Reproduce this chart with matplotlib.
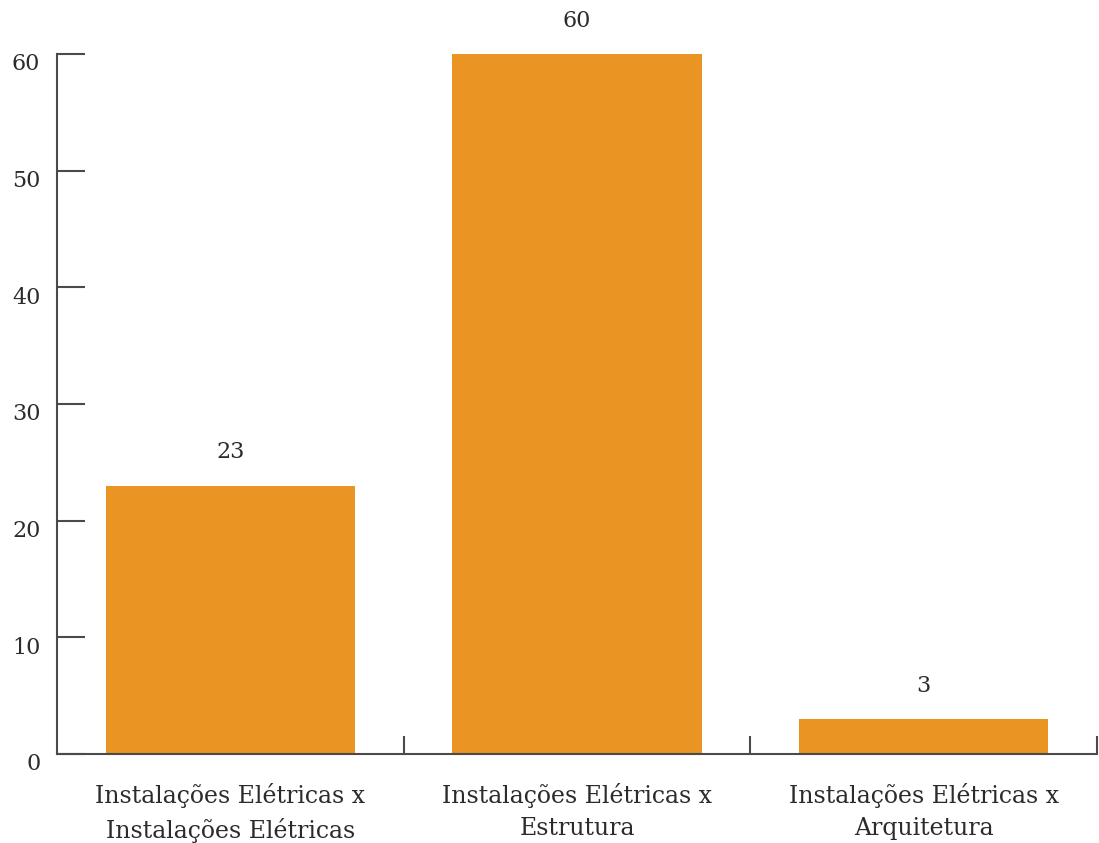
import matplotlib.pyplot as plt
import matplotlib.transforms as mtransforms
from matplotlib.ticker import FixedLocator

categories = ['Instalações Elétricas x\nInstalações Elétricas',
              'Instalações Elétricas x\nEstrutura',
              'Instalações Elétricas x\nArquitetura']
values = [23, 60, 3]
y_ticks = [0, 10, 20, 30, 40, 50, 60]

bar_color = '#E99423'
axis_color = '#4a4a4a'
text_color = '#2b2b2b'

plt.rcParams['font.family'] = ['DejaVu Serif']

fig = plt.figure(figsize=(10.99, 8.43), dpi=100)
ax = fig.add_axes([57 / 1099, 89 / 843, 1040 / 1099, 700 / 843])

x = range(len(values))
bars = ax.bar(x, values, width=0.72, color=bar_color, zorder=2)

for b, v in zip(bars, values):
    ax.annotate(str(v), (b.get_x() + b.get_width() / 2, v),
                xytext=(0, 16), textcoords='offset points',
                ha='center', va='bottom', fontsize=16, color=text_color)

ax.set_xlim(-0.5, 2.5)
ax.set_ylim(0, 60)

for s in ['top', 'right']:
    ax.spines[s].set_visible(False)
for s in ['left', 'bottom']:
    ax.spines[s].set_color(axis_color)
    ax.spines[s].set_linewidth(1.5)

ax.set_yticks(y_ticks)
ax.tick_params(axis='y', direction='in', length=20, width=1.5,
               color=axis_color, pad=12, labelsize=16, labelcolor=text_color)
# shift y labels a bit down like the original
offset = mtransforms.ScaledTranslation(0, -8 / 100, fig.dpi_scale_trans)
for lbl in ax.get_yticklabels():
    lbl.set_transform(lbl.get_transform() + offset)

# category labels as major (no tick), separators as minor ticks
ax.set_xticks(list(x))
ax.set_xticklabels(categories, fontsize=17, color=text_color, linespacing=1.5)
ax.tick_params(axis='x', which='major', length=0, pad=21)
ax.xaxis.set_minor_locator(FixedLocator([0.5, 1.5, 2.5]))
ax.tick_params(axis='x', which='minor', direction='in', length=13, width=1.5,
               color=axis_color)

fig.savefig('out.png', dpi=100)
